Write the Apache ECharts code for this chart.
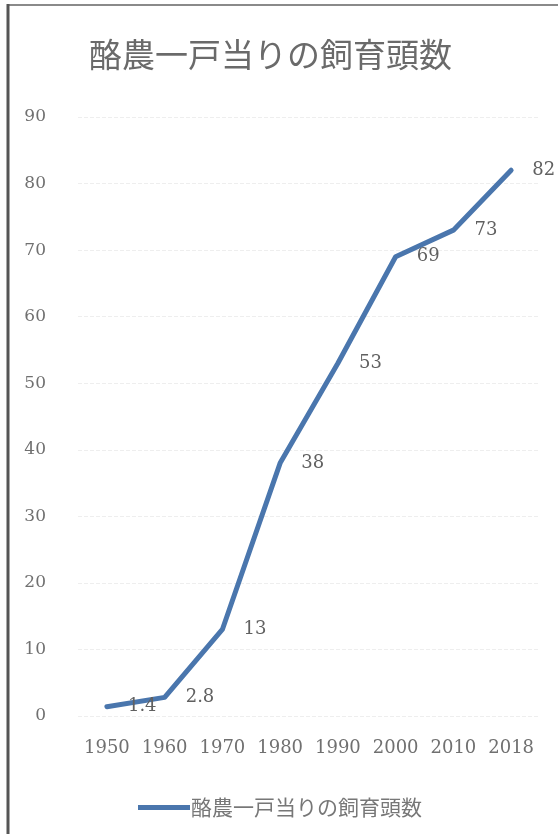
<!DOCTYPE html>
<html>
<head>
<meta charset="utf-8">
<script src="https://cdn.jsdelivr.net/npm/echarts@6/dist/echarts.min.js"></script>
<style>
  html, body { margin: 0; padding: 0; background: #ffffff; }
  #chart { width: 558px; height: 834px; }
</style>
</head>
<body>
<div id="chart"></div>
<script>
// 酪農一戸当りの飼育頭数（頭）
const years = ['1950', '1960', '1970', '1980', '1990', '2000', '2010', '2018'];
const headsPerFarm = [1.4, 2.8, 13, 38, 53, 69, 73, 82];
const yTicks = { min: 0, max: 90, interval: 10 };
const seriesName = '酪農一戸当りの飼育頭数';

const serif = '"DejaVu Serif", "Liberation Serif", serif';
const cjk = '"Noto Sans CJK JP", "Noto Sans CJK SC", sans-serif';
const lineColor = '#4a76ad';

const chart = echarts.init(document.getElementById('chart'));
chart.setOption({
  backgroundColor: '#ffffff',
  animation: false,
  title: {
    text: seriesName,
    left: 84,
    top: 33,
    textStyle: { fontFamily: cjk, fontSize: 33, fontWeight: 'normal', color: '#6a6a6a' }
  },
  legend: {
    data: [{ name: seriesName, icon: 'rect' }],
    left: 133,
    top: 792,
    itemWidth: 52,
    itemHeight: 5,
    textStyle: { fontFamily: cjk, fontSize: 21, color: '#777777', padding: [0, 0, 0, -4] }
  },
  grid: { left: 78, right: 18, top: 117, bottom: 118 },
  xAxis: {
    type: 'category',
    data: years,
    boundaryGap: true,
    axisLine: { show: false },
    axisTick: { show: false },
    axisLabel: { interval: 0, margin: 23, fontFamily: serif, fontSize: 18, color: '#707070' }
  },
  yAxis: {
    type: 'value',
    min: yTicks.min,
    max: yTicks.max,
    interval: yTicks.interval,
    axisLine: { show: false },
    axisTick: { show: false },
    axisLabel: { margin: 32, fontFamily: serif, fontSize: 17, color: '#707070' },
    splitLine: { lineStyle: { color: '#eeeeee', type: 'dashed', width: 1 } }
  },
  graphic: [
    { type: 'line', shape: { x1: 8, y1: 5, x2: 558, y2: 5 }, style: { stroke: '#8a8a8a', lineWidth: 2 } },
    { type: 'line', shape: { x1: 8, y1: 4, x2: 8, y2: 834 }, style: { stroke: '#555555', lineWidth: 3 } }
  ],
  series: [{
    name: seriesName,
    type: 'line',
    data: headsPerFarm,
    showSymbol: true,
    symbol: 'circle',
    symbolSize: 0.1,
    lineStyle: { color: lineColor, width: 5, cap: 'round', join: 'round' },
    itemStyle: { color: lineColor },
    label: {
      show: true,
      position: 'right',
      distance: 21,
      fontFamily: serif,
      fontSize: 18,
      color: '#606060'
    }
  }]
});
</script>
</body>
</html>
